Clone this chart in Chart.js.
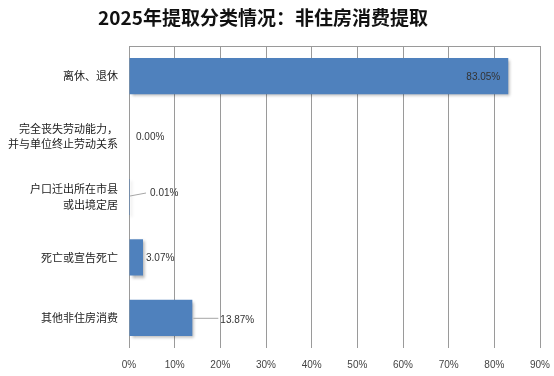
<!DOCTYPE html>
<html>
<head>
<meta charset="utf-8">
<script src="https://cdn.jsdelivr.net/npm/chart.js@4/dist/chart.umd.min.js"></script>
<style>
  html, body { margin: 0; padding: 0; background: #fff; }
  #wrap { width: 554px; height: 376px; position: relative; }
</style>
</head>
<body>
<div id="wrap"><canvas id="ChartTiqu"></canvas></div>
<script>
var titre = "2025年提取分类情况：非住房消费提取";
var categories = [
    "离休、退休",
    ["完全丧失劳动能力，", "并与单位终止劳动关系"],
    ["户口迁出所在市县", "或出境定居"],
    "死亡或宣告死亡",
    "其他非住房消费"
];
var valeurs = [83.05, 0.00, 0.01, 3.07, 13.87];
var xTicks = [0, 10, 20, 30, 40, 50, 60, 70, 80, 90];

// title drawn by hand: the original is not centred on the canvas
var titrePlugin = {
    id: 'titrePlugin',
    afterDraw: function(chart){
        var ctx = chart.ctx;
        ctx.save();
        ctx.font = "bold 19px 'Noto Sans CJK SC', sans-serif";
        ctx.fillStyle = '#111';
        ctx.textAlign = 'center';
        ctx.textBaseline = 'middle';
        ctx.fillText(titre, 263, 18);
        ctx.restore();
    }
};

var ombrePlugin = {
    id: 'ombrePlugin',
    beforeDatasetsDraw: function(chart){
        var ctx = chart.ctx;
        ctx.save();
        ctx.shadowColor = 'rgba(0,0,0,0.3)';
        ctx.shadowOffsetX = 2;
        ctx.shadowOffsetY = 2;
        ctx.shadowBlur = 3;
    },
    afterDatasetsDraw: function(chart){
        chart.ctx.restore();
    }
};

// value labels, some inside, some with a leader line
var etiquettePlugin = {
    id: 'etiquettePlugin',
    afterDatasetsDraw: function(chart){
        var ctx = chart.ctx;
        var meta = chart.getDatasetMeta(0);
        ctx.save();
        ctx.font = "10px 'Liberation Sans', Arial, sans-serif";
        ctx.fillStyle = '#333';
        ctx.textBaseline = 'middle';
        ctx.strokeStyle = '#a6a6a6';
        ctx.lineWidth = 1;
        meta.data.forEach(function(bar, i){
            var txt = valeurs[i].toFixed(2) + '%';
            var x = bar.x, y = bar.y;
            if (i === 0) {
                ctx.textAlign = 'right';
                ctx.fillText(txt, x - 8, y + 1);
            } else if (i === 2) {
                ctx.beginPath();
                ctx.moveTo(x + 1, y - 1);
                ctx.lineTo(x + 17, y - 4);
                ctx.stroke();
                ctx.textAlign = 'left';
                ctx.fillText(txt, x + 21, y - 4);
            } else if (i === 4) {
                ctx.beginPath();
                ctx.moveTo(x + 1, y + 0.5);
                ctx.lineTo(x + 26, y + 0.5);
                ctx.stroke();
                ctx.textAlign = 'left';
                ctx.fillText(txt, x + 28, y + 2);
            } else {
                ctx.textAlign = 'left';
                ctx.fillText(txt, x + (i === 1 ? 7 : 3), y + 1);
            }
        });
        ctx.restore();
    }
};

var ctxB = document.getElementById("ChartTiqu").getContext('2d');
var monGraphique = new Chart(ctxB, {
    type: 'bar',
    data: {
        labels: categories,
        datasets: [{
            label: "提取",
            data: valeurs,
            backgroundColor: '#4F81BD',
            borderWidth: 0,
            barPercentage: 0.6,
            categoryPercentage: 1.0
        }]
    },
    options: {
        indexAxis: 'y',
        responsive: true,
        maintainAspectRatio: false,
        animation: false,
        layout: { padding: { top: 46, right: 0, bottom: 0, left: 0 } },
        plugins: {
            legend: { display: false },
            tooltip: { enabled: false },
            title: { display: false }
        },
        scales: {
            x: {
                position: 'bottom',
                min: 0,
                max: 90,
                afterBuildTicks: function(scale){
                    scale.ticks = xTicks.map(function(v){ return { value: v }; });
                },
                afterFit: function(scale){
                    scale.height = 28;
                    scale.paddingLeft = 0;
                    scale.paddingRight = 14;
                },
                grid: { color: '#9a9a9a', drawTicks: false },
                border: { display: false },
                ticks: {
                    padding: 11,
                    color: '#444',
                    font: { family: "'Liberation Sans', Arial, sans-serif", size: 10 },
                    callback: function(v){ return v + '%'; }
                }
            },
            x2: {
                type: 'linear',
                position: 'top',
                min: 0,
                max: 90,
                grid: { display: false, drawTicks: false },
                ticks: { display: false },
                border: { display: true, color: '#9a9a9a' },
                afterFit: function(scale){
                    scale.height = 0;
                    scale.paddingLeft = 0;
                    scale.paddingRight = 14;
                }
            },
            y: {
                grid: { display: false, drawTicks: false },
                border: { display: false },
                ticks: {
                    padding: 11,
                    color: '#222',
                    font: { family: "'Noto Sans CJK SC', sans-serif", size: 11, lineHeight: 1.4 }
                },
                afterFit: function(scale){ scale.width = 129; }
            }
        }
    },
    plugins: [ombrePlugin, etiquettePlugin, titrePlugin]
});
</script>
</body>
</html>
